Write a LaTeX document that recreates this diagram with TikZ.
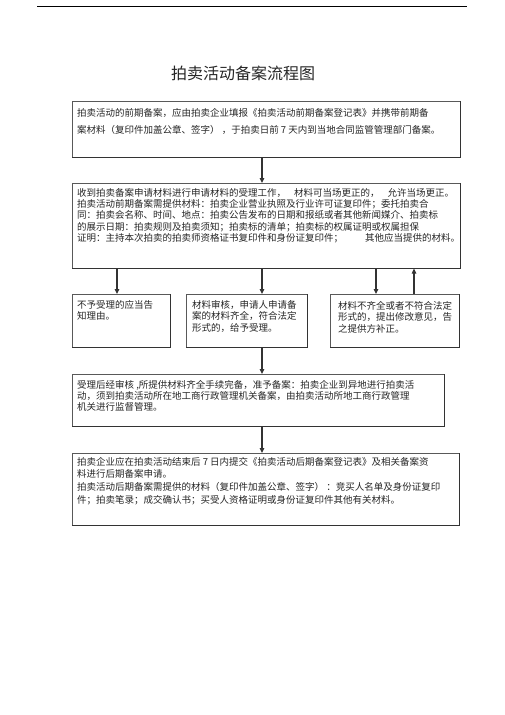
\documentclass[tikz,border=0pt]{standalone}
\usepackage{fontspec}
\setmainfont{Liberation Serif}
\newfontfamily\cjk{Noto Sans CJK SC}
\usetikzlibrary{arrows.meta}
\begin{document}
\begin{tikzpicture}[x=1pt,y=-1pt,
  box/.style={draw=black!65,line width=0.6pt,inner sep=0pt,anchor=north west},
  edge/.style={draw=black!80,line width=1.1pt},
  txt/.style={anchor=north west,inner sep=0pt,align=left,text=black!85},
  arr/.style={draw=black!80,line width=1.1pt,-{Triangle[length=5pt,width=4.5pt]}}]
\useasboundingbox (0,0) rectangle (505,715);
\fill[white] (0,0) rectangle (505,715);
\draw[line width=1pt] (37,6) -- (467,6);
\node[font=\cjk\fontsize{16}{16}\selectfont,inner sep=0pt,text=black!85] (title) at (243,73) {拍卖活动备案流程图};

\coordinate (cm) at (262,0);
\coordinate (ca) at (117,0);
\coordinate (cc) at (376,0);
\coordinate (cu) at (414,0);

\node[box,minimum width=388pt,minimum height=56pt] (b1) at (72,101) {};
\node[box,minimum width=388pt,minimum height=85pt] (b2) at (72,183) {};
\node[box,minimum width=98pt,minimum height=53pt] (ba) at (72,294) {};
\node[box,minimum width=121pt,minimum height=53pt] (bb) at (186,294) {};
\node[box,minimum width=129pt,minimum height=53pt] (bc) at (330,294) {};
\node[box,minimum width=372pt,minimum height=52pt] (b4) at (72,374) {};
\node[box,minimum width=387pt,minimum height=72pt] (b5) at (72,453) {};
\foreach \n in {b1,b2,ba,bb,bc,b4,b5}
  \draw[edge] (\n.north east) -- (\n.south east) -- (\n.south west);

\node[txt,font=\cjk\fontsize{9.5}{17}\selectfont] (t1) at (77,108)
 {拍卖活动的前期备案，应由拍卖企业填报《拍卖活动前期备案登记表》并携带前期备\\
  案材料（复印件加盖公章、签字） ，于拍卖日前 7 天内到当地合同监管管理部门备案。};
\node[txt,font=\cjk\fontsize{9.5}{11.3}\selectfont] (t2) at (77,188)
 {收到拍卖备案申请材料进行申请材料的受理工作，\hspace{8pt}材料可当场更正的，\hspace{8pt}允许当场更正。\\
  拍卖活动前期备案需提供材料：拍卖企业营业执照及行业许可证复印件；委托拍卖合\\
  同：拍卖会名称、时间、地点：拍卖公告发布的日期和报纸或者其他新闻媒介、拍卖标\\
  的展示日期：拍卖规则及拍卖须知；拍卖标的清单；拍卖标的权属证明或权属担保\\
  证明：主持本次拍卖的拍卖师资格证书复印件和身份证复印件；\hspace{22pt}其他应当提供的材料。};
\node[txt,font=\cjk\fontsize{9.5}{11.5}\selectfont] (ta) at (77,300)
 {不予受理的应当告\\知理由。};
\node[txt,font=\cjk\fontsize{9.5}{11.5}\selectfont] (tb) at (192,300)
 {材料审核，申请人申请备\\案的材料齐全，符合法定\\形式的，给予受理。};
\node[txt,font=\cjk\fontsize{9.5}{11.5}\selectfont] (tc) at (338,301)
 {材料不齐全或者不符合法定\\形式的，提出修改意见，告\\之提供方补正。};
\node[txt,font=\cjk\fontsize{9.5}{11}\selectfont] (t4) at (77,380)
 {受理后经审核 ,所提供材料齐全手续完备，准予备案：拍卖企业到异地进行拍卖活\\
  动，须到拍卖活动所在地工商行政管理机关备案，由拍卖活动所地工商行政管理\\
  机关进行监督管理。};
\node[txt,font=\cjk\fontsize{9.5}{12.6}\selectfont] (t5) at (77,457)
 {拍卖企业应在拍卖活动结束后 7 日内提交《拍卖活动后期备案登记表》及相关备案资\\
  料进行后期备案申请。\\
  拍卖活动后期备案需提供的材料（复印件加盖公章、签字） ：竞买人名单及身份证复印\\
  件；拍卖笔录；成交确认书；买受人资格证明或身份证复印件其他有关材料。};

\draw[arr] (b1.south -| cm) -- (b2.north -| cm);
\draw[arr] (b2.south -| ca) -- (ba.north -| ca);
\draw[arr] (b2.south -| cm) -- (bb.north -| cm);
\draw[arr] (b2.south -| cc) -- (bc.north -| cc);
\draw[arr] (bc.north -| cu) -- (b2.south -| cu);
\draw[arr] (bb.south -| cm) -- (b4.north -| cm);
\draw[arr] (b4.south -| cm) -- (b5.north -| cm);
\end{tikzpicture}
\end{document}
